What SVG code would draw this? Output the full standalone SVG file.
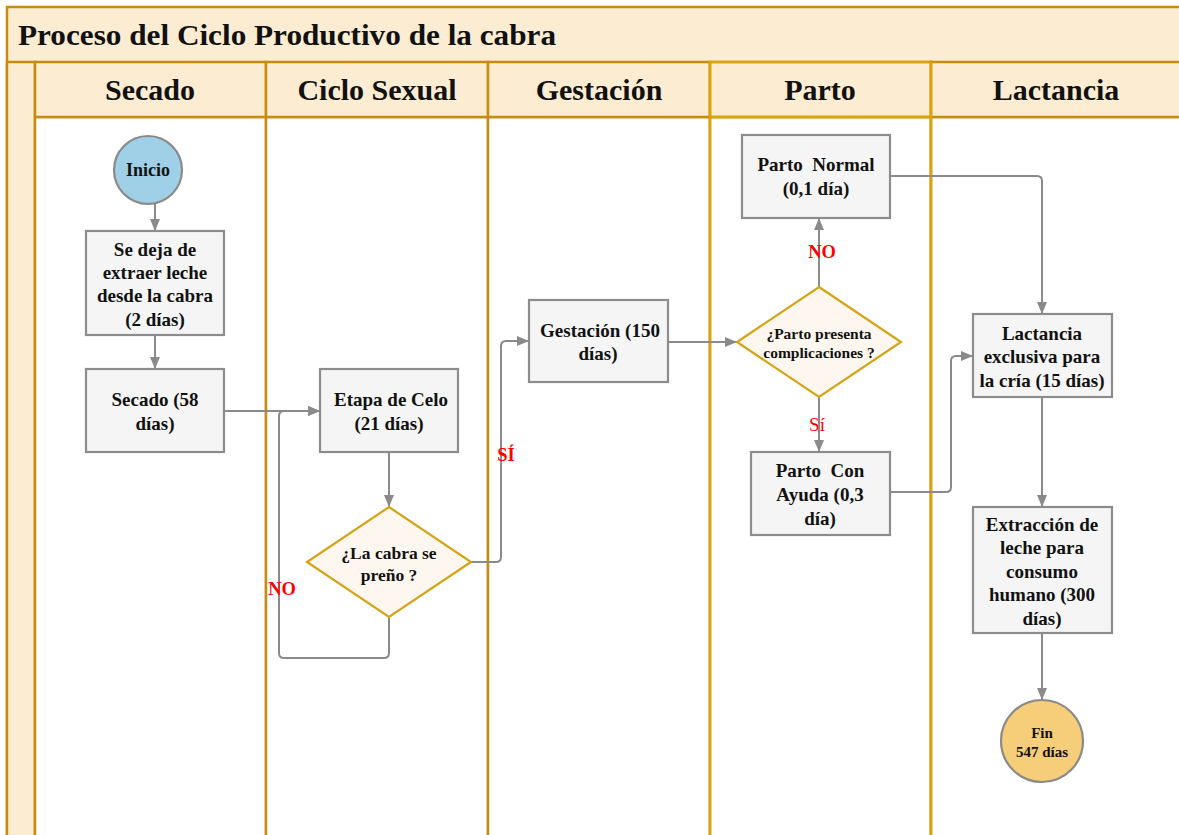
<svg xmlns="http://www.w3.org/2000/svg" width="1179" height="835" viewBox="0 0 1179 835">
  <style>
    .band { fill: #fcecd1; stroke: #c98a10; stroke-width: 2.5; }
    .lane { fill: #ffffff; stroke: #c98a10; stroke-width: 2.5; }
    .lane-y { fill: none; stroke: #d9a30a; stroke-width: 2.5; }
    .title { font-family: "Liberation Serif", "Times New Roman", serif; font-weight: bold; font-size: 30px; fill: #111; }
    .head { font-family: "Liberation Serif", "Times New Roman", serif; font-weight: bold; font-size: 30px; fill: #111; text-anchor: middle; }
    .box { fill: #f5f5f5; stroke: #8c8c8c; stroke-width: 2.2; }
    .dec { fill: #fef7ef; stroke: #d6a315; stroke-width: 2.2; }
    .t { font-family: "Liberation Serif", "Times New Roman", serif; font-weight: bold; font-size: 19px; fill: #111; text-anchor: middle; }
    .ts { font-size: 15.5px; }
    .conn { fill: none; stroke: #8a8a8a; stroke-width: 2; }
    .lbl { font-family: "Liberation Serif", "Times New Roman", serif; font-weight: bold; font-size: 18.5px; fill: #ff0000; text-anchor: middle; }
    .lbl-r { font-weight: normal; font-size: 19px; }
  </style>
  <defs>
    <marker id="arrow" viewBox="0 0 12 10" markerWidth="12" markerHeight="10" refX="12" refY="5" orient="auto" markerUnits="userSpaceOnUse">
      <path d="M0,0 L12,5 L0,10 z" fill="#8a8a8a"/>
    </marker>
  </defs>

  <rect x="0" y="0" width="1179" height="835" fill="#ffffff"/>

  <!-- pool frame: title band, side band, lane headers -->
  <g id="pool">
    <rect class="band" x="7" y="7" width="1190" height="850"/>
    <text class="title" x="18" y="45" textLength="538" lengthAdjust="spacingAndGlyphs">Proceso del Ciclo Productivo de la cabra</text>
    <rect class="band" x="7" y="62" width="28" height="800"/>
  </g>

  <g id="lane-secado">
    <rect class="lane" x="35" y="117" width="231" height="745"/>
    <rect class="band" x="35" y="62" width="231" height="55"/>
    <text class="head" x="150" y="100">Secado</text>
  </g>
  <g id="lane-ciclo">
    <rect class="lane" x="266" y="117" width="222" height="745"/>
    <rect class="band" x="266" y="62" width="222" height="55"/>
    <text class="head" x="377" y="100">Ciclo Sexual</text>
  </g>
  <g id="lane-gestacion">
    <rect class="lane" x="488" y="117" width="222" height="745"/>
    <rect class="band" x="488" y="62" width="222" height="55"/>
    <text class="head" x="599" y="100">Gestación</text>
  </g>
  <g id="lane-parto">
    <rect class="lane" x="710" y="117" width="221" height="745"/>
    <rect class="band" x="710" y="62" width="221" height="55"/>
    <rect class="lane-y" x="710" y="62" width="221" height="800"/>
    <line class="lane-y" x1="710" y1="117" x2="931" y2="117"/>
    <text class="head" x="820" y="100">Parto</text>
  </g>
  <g id="lane-lactancia">
    <rect class="lane" x="931" y="117" width="260" height="745"/>
    <rect class="band" x="931" y="62" width="260" height="55"/>
    <line class="lane-y" x1="931" y1="62" x2="931" y2="862"/>
    <text class="head" x="1056" y="100">Lactancia</text>
  </g>

  <!-- connectors -->
  <g id="connectors">
    <path class="conn" marker-end="url(#arrow)" d="M155,203 V231"/>
    <path class="conn" marker-end="url(#arrow)" d="M155,335 V369"/>
    <path class="conn" marker-end="url(#arrow)" d="M224,411 H320"/>
    <path class="conn" marker-end="url(#arrow)" d="M389,452 V507"/>
    <path class="conn" marker-end="url(#arrow)" d="M389,617 V653 Q389,658 384,658 H284 Q279,658 279,653 V416 Q279,411 284,411 H320"/>
    <path class="conn" marker-end="url(#arrow)" d="M471,562 H496 Q501,562 501,557 V346 Q501,341 506,341 H529"/>
    <path class="conn" marker-end="url(#arrow)" d="M668,342 H737"/>
    <path class="conn" marker-end="url(#arrow)" d="M819,287 V218"/>
    <path class="conn" marker-end="url(#arrow)" d="M819,397 V452"/>
    <path class="conn" marker-end="url(#arrow)" d="M890,176 H1037 Q1042,176 1042,181 V314"/>
    <path class="conn" marker-end="url(#arrow)" d="M890,492 H946 Q951,492 951,487 V361 Q951,356 956,356 H973"/>
    <path class="conn" marker-end="url(#arrow)" d="M1042,397 V507"/>
    <path class="conn" marker-end="url(#arrow)" d="M1042,633 V700"/>
    <text class="lbl" x="282" y="595">NO</text>
    <text class="lbl" x="506" y="461">SÍ</text>
    <text class="lbl" x="822" y="258">NO</text>
    <text class="lbl lbl-r" x="817" y="431">Sí</text>
  </g>

  <!-- nodes -->
  <g id="inicio">
    <circle cx="148" cy="170" r="34" fill="#9fd0e7" stroke="#8a8a8a" stroke-width="2.2"/>
    <text class="t" x="148" y="176" style="font-size:18px">Inicio</text>
  </g>
  <g id="dejar-extraer">
    <rect class="box" x="86" y="231" width="138" height="104"/>
    <text class="t" x="155" y="256">Se deja de</text>
    <text class="t" x="155" y="279">extraer leche</text>
    <text class="t" x="155" y="302">desde la cabra</text>
    <text class="t" x="155" y="326">(2 días)</text>
  </g>
  <g id="secado">
    <rect class="box" x="86" y="369" width="138" height="83"/>
    <text class="t" x="155" y="406">Secado (58</text>
    <text class="t" x="155" y="430">días)</text>
  </g>
  <g id="celo">
    <rect class="box" x="320" y="369" width="138" height="83"/>
    <text class="t" x="391" y="406">Etapa de Celo</text>
    <text class="t" x="389" y="430">(21 días)</text>
  </g>
  <g id="prenada">
    <polygon class="dec" points="389,507 471,562 389,617 307,562"/>
    <text class="t" x="389" y="559" style="font-size:17.5px">¿La cabra se</text>
    <text class="t" x="389" y="581" style="font-size:17.5px">preño ?</text>
  </g>
  <g id="gestacion">
    <rect class="box" x="529" y="300" width="139" height="82"/>
    <text class="t" x="600" y="337">Gestación (150</text>
    <text class="t" x="598" y="360">días)</text>
  </g>
  <g id="complicaciones">
    <polygon class="dec" points="819,287 901,342 819,397 737,342"/>
    <text class="t ts" x="819" y="339">¿Parto presenta</text>
    <text class="t ts" x="819" y="358">complicaciones ?</text>
  </g>
  <g id="parto-normal">
    <rect class="box" x="742" y="135" width="148" height="83"/>
    <text class="t" x="816" y="171" xml:space="preserve">Parto  Normal</text>
    <text class="t" x="816" y="195">(0,1 día)</text>
  </g>
  <g id="parto-ayuda">
    <rect class="box" x="751" y="452" width="139" height="83"/>
    <text class="t" x="820" y="477" xml:space="preserve">Parto  Con</text>
    <text class="t" x="820" y="501">Ayuda (0,3</text>
    <text class="t" x="820" y="525">día)</text>
  </g>
  <g id="lactancia-cria">
    <rect class="box" x="973" y="314" width="139" height="83"/>
    <text class="t" x="1042" y="340">Lactancia</text>
    <text class="t" x="1042" y="363">exclusiva para</text>
    <text class="t" x="1042" y="387">la cría (15 días)</text>
  </g>
  <g id="extraccion">
    <rect class="box" x="973" y="507" width="139" height="126"/>
    <text class="t" x="1042" y="531">Extracción de</text>
    <text class="t" x="1042" y="554">leche para</text>
    <text class="t" x="1042" y="578">consumo</text>
    <text class="t" x="1042" y="601">humano (300</text>
    <text class="t" x="1042" y="625">días)</text>
  </g>
  <g id="fin">
    <circle cx="1042" cy="741" r="41" fill="#f6cd79" stroke="#8a8a8a" stroke-width="2.2"/>
    <text class="t" x="1042" y="738" style="font-size:15px">Fin</text>
    <text class="t" x="1042" y="757" style="font-size:15px">547 días</text>
  </g>
</svg>
